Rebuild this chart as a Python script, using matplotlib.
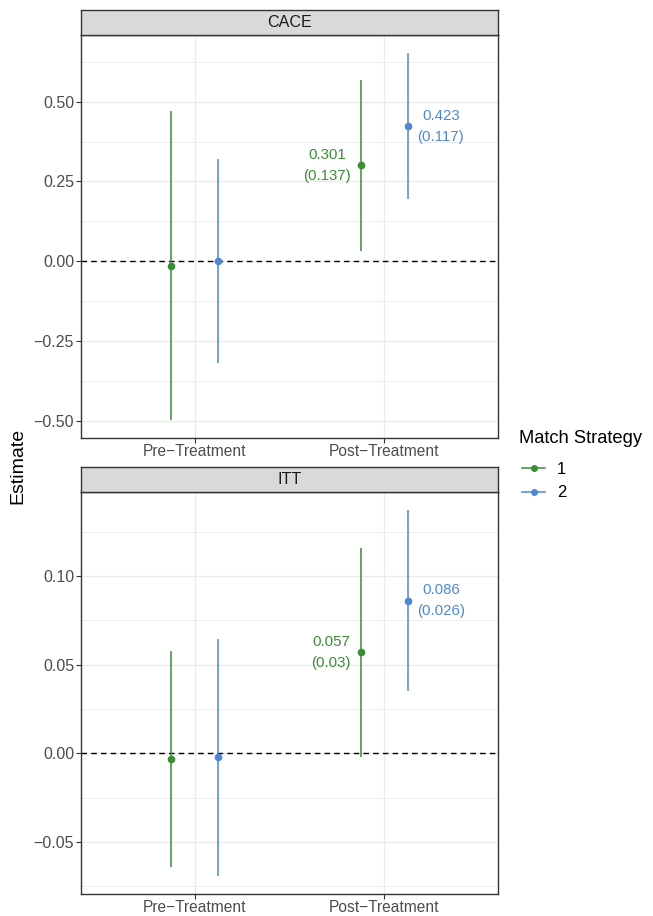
import matplotlib
matplotlib.use("Agg")
import matplotlib.pyplot as plt
from matplotlib.lines import Line2D
import numpy as np

plt.rcParams['font.family'] = ['Liberation Sans', 'DejaVu Sans']

categories = ["Pre\u2212Treatment", "Post\u2212Treatment"]
strategies = ["1", "2"]
colors = {"1": "#3B8C36", "2": "#4E88D2"}

# CACE panel
cace_est = {"1": [-0.015, 0.301], "2": [0.002, 0.423]}
cace_lo = {"1": [-0.497, 0.033], "2": [-0.320, 0.194]}
cace_hi = {"1": [0.470, 0.569], "2": [0.320, 0.652]}
cace_lab = {"1": [None, "0.301\n(0.137)"], "2": [None, "0.423\n(0.117)"]}

# ITT panel
itt_est = {"1": [-0.003, 0.057], "2": [-0.002, 0.086]}
itt_lo = {"1": [-0.064, -0.002], "2": [-0.069, 0.035]}
itt_hi = {"1": [0.0575, 0.116], "2": [0.0645, 0.137]}
itt_lab = {"1": [None, "0.057\n(0.03)"], "2": [None, "0.086\n(0.026)"]}

cace_ticks = [-0.50, -0.25, 0.00, 0.25, 0.50]
itt_ticks = [-0.05, 0.00, 0.05, 0.10]

W, H = 653, 916
fig = plt.figure(figsize=(W / 100, H / 100), dpi=100)

left, right = 81 / W, 498 / W
grey20 = "#333333"
grey30 = "#4D4D4D"
gridc = "#EBEBEB"

def panel(top_px, bot_px, strip_top_px, title, est, lo, hi, lab, ticks, fmt):
    ax = fig.add_axes([left, 1 - bot_px / H, right - left, (bot_px - top_px) / H])
    dodge = 0.125
    offs = {"1": -dodge, "2": dodge}
    allv = []
    for s in strategies:
        x = np.arange(len(categories)) + 1 + offs[s]
        ax.vlines(x, lo[s], hi[s], color=colors[s], lw=1.1, zorder=3)
        ax.plot(x, est[s], 'o', color=colors[s], ms=4.5, zorder=4)
        allv += lo[s] + hi[s]
        for i, t in enumerate(lab[s]):
            if t is None:
                continue
            if s == "1":
                ax.text(x[i] - 0.05, est[s][i], t, ha='right', va='center',
                        multialignment='center', color=colors[s], fontsize=10.8,
                        linespacing=1.65, zorder=5)
            else:
                ax.text(x[i] + 0.05, est[s][i], t, ha='left', va='center',
                        multialignment='center', color=colors[s], fontsize=10.8,
                        linespacing=1.65, zorder=5)
    ax.axhline(0, color='black', ls=(0, (4, 3)), lw=1.0, zorder=2)
    ax.set_xticks([1, 2])
    ax.set_xticklabels(categories)
    ax.set_yticks(ticks)
    ax.set_yticklabels([fmt(t) for t in ticks])
    minor = [(a + b) / 2 for a, b in zip(ticks[:-1], ticks[1:])]
    step = ticks[1] - ticks[0]
    minor = [ticks[0] - step / 2] + minor + [ticks[-1] + step / 2]
    ax.set_yticks(minor, minor=True)
    lo_v, hi_v = min(allv), max(allv)
    pad = 0.05 * (hi_v - lo_v)
    ax.set_ylim(lo_v - pad, hi_v + pad)
    ax.set_xlim(0.4, 2.6)
    ax.grid(True, which='major', color=gridc, lw=1.0, zorder=0)
    ax.grid(True, which='minor', axis='y', color=gridc, lw=0.6, zorder=0)
    ax.set_axisbelow(True)
    ax.tick_params(axis='both', which='major', length=3.5, width=0.8,
                   color=grey20, labelcolor=grey30, labelsize=11.5, pad=1.5)
    ax.tick_params(axis='x', which='major', labelsize=11.2, pad=1.0)
    ax.tick_params(axis='y', which='minor', length=0)
    for sp in ax.spines.values():
        sp.set_color(grey20)
        sp.set_linewidth(1.0)
    # strip
    sax = fig.add_axes([left, 1 - top_px / H, right - left, (top_px - strip_top_px) / H])
    sax.set_facecolor("#D9D9D9")
    sax.set_xticks([])
    sax.set_yticks([])
    for sp in sax.spines.values():
        sp.set_color(grey20)
        sp.set_linewidth(1.0)
    sax.text(0.5, 0.5, title, ha='center', va='center', fontsize=11.6,
             color="#1A1A1A", transform=sax.transAxes)
    return ax

def fmt2(v):
    s = f"{v:.2f}"
    return s.replace("-", "\u2212")

panel(35, 438, 10, "CACE", cace_est, cace_lo, cace_hi, cace_lab, cace_ticks, fmt2)
panel(492, 894, 467, "ITT", itt_est, itt_lo, itt_hi, itt_lab, itt_ticks, fmt2)

fig.text(18 / W, 1 - 466 / H, "Estimate", rotation=90, ha='center', va='center',
         fontsize=14, color='black')

# legend title drawn as figure text, items via legend
fig.text(519 / W, 1 - 438 / H, "Match Strategy", ha='left', va='center',
         fontsize=13.2, color='black')
handles = [Line2D([0], [0], color=colors[s], lw=1.1, marker='o', ms=4) for s in strategies]
leg = fig.legend(handles, strategies, loc='upper left',
                 bbox_to_anchor=(522 / W, 1 - 462 / H), frameon=False,
                 fontsize=12, handlelength=1.4, borderpad=0.0, borderaxespad=0.0,
                 handletextpad=0.7, labelspacing=0.5)

fig.savefig("out.png", dpi=100)
